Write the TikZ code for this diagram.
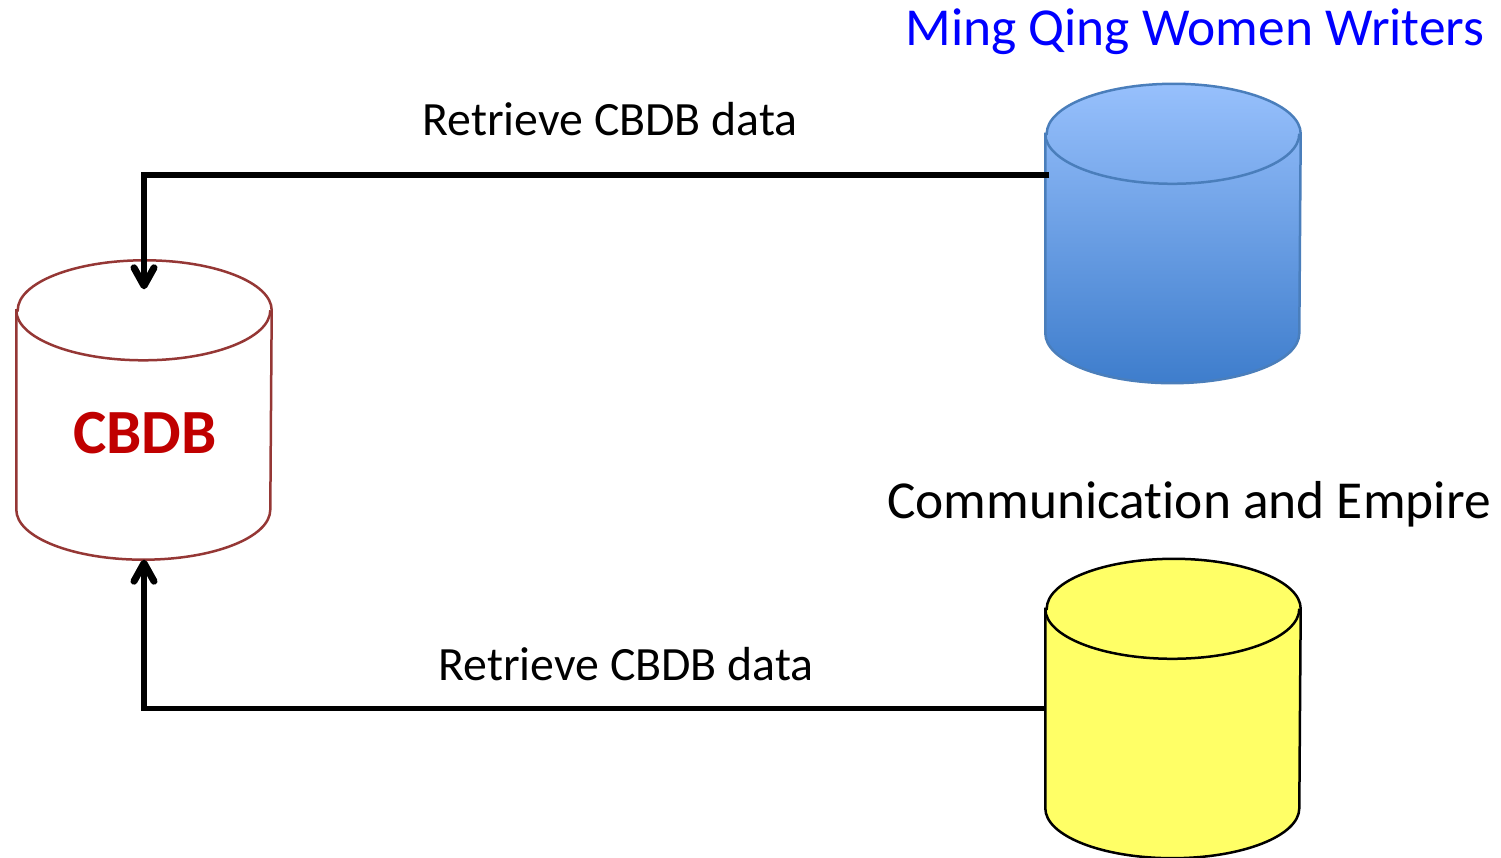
\documentclass[tikz,border=0pt]{standalone}
\usepackage{fontspec}
\setmainfont{Carlito}[Ligatures=NoCommon]
\usepackage{tikz}
\usetikzlibrary{arrows.meta,positioning,calc}
\definecolor{cbdbred}{RGB}{192,0,0}
\definecolor{cbdbedge}{RGB}{149,55,53}
\definecolor{mqblue}{RGB}{0,0,255}
\definecolor{lightsky}{RGB}{151,192,252}
\definecolor{deepsky}{RGB}{62,125,204}
\definecolor{skyedge}{RGB}{74,126,187}
\definecolor{lemon}{RGB}{255,255,102}
% database drum on a frame node: #1 node name, #2 fill options, #3 edge colour
\newcommand{\dbdrum}[3]{%
  \path[#2,draw=#3,line width=0.25mm] ([yshift=-5mm]#1.north west) -- ([yshift=5mm]#1.south west)
    arc[start angle=180,end angle=360,x radius=1.27cm,y radius=5mm]
    -- ([yshift=-5mm]#1.north east)
    arc[start angle=0,end angle=180,x radius=1.27cm,y radius=5mm] -- cycle;
  \draw[#3,line width=0.25mm] ([yshift=-5mm]#1.north west)
    arc[start angle=180,end angle=360,x radius=1.27cm,y radius=5mm];}

\begin{document}
\begin{tikzpicture}[x=1cm,y=1cm]
  \tikzstyle{dbframe}=[rectangle,draw=none,minimum width=2.54cm,minimum height=2.98cm,inner sep=0pt]
  \tikzstyle{flow}=[line width=0.55mm,-{Straight Barb[length=1.8mm,width=2mm,line width=0.7mm,line cap=round,line join=round]}]
  \tikzstyle{lbl}=[inner sep=0pt,anchor=base]

  \useasboundingbox (0,0) rectangle (15.01,8.57);

  \node[dbframe] (cbdb) at (1.44,4.47) {};
  \node[dbframe] (mqww) at (11.73,6.235) {};
  \node[dbframe] (comm) at (11.73,1.485) {};
  \dbdrum{cbdb}{fill=white}{cbdbedge}
  \dbdrum{mqww}{top color=lightsky,bottom color=deepsky}{skyedge}
  \dbdrum{comm}{fill=lemon}{black}

  \node[text=cbdbred,font=\fontsize{17.9}{20}\selectfont\bfseries] (cbdbtxt) at (1.45,4.24) {CBDB};
  \node[lbl,text=mqblue,font=\fontsize{15.2}{18}\selectfont] (mqwwtxt) at (11.95,8.11) {Ming Qing Women Writers};
  \node[lbl,font=\fontsize{15.2}{18}\selectfont] (commtxt) at (11.89,3.38) {Communication and Empire};
  \node[lbl,font=\fontsize{13.6}{16}\selectfont] (top) at (6.10,7.21) {Retrieve CBDB data};
  \node[lbl,font=\fontsize{13.6}{16}\selectfont] (bot) at (6.26,1.77) {Retrieve CBDB data};

  \draw[flow] ([yshift=5.85mm,xshift=0.4mm]mqww.west) -| ([yshift=-2.9mm]cbdb.north);
  \draw[flow] (comm.west) -| (cbdb.south);
\end{tikzpicture}
\end{document}
